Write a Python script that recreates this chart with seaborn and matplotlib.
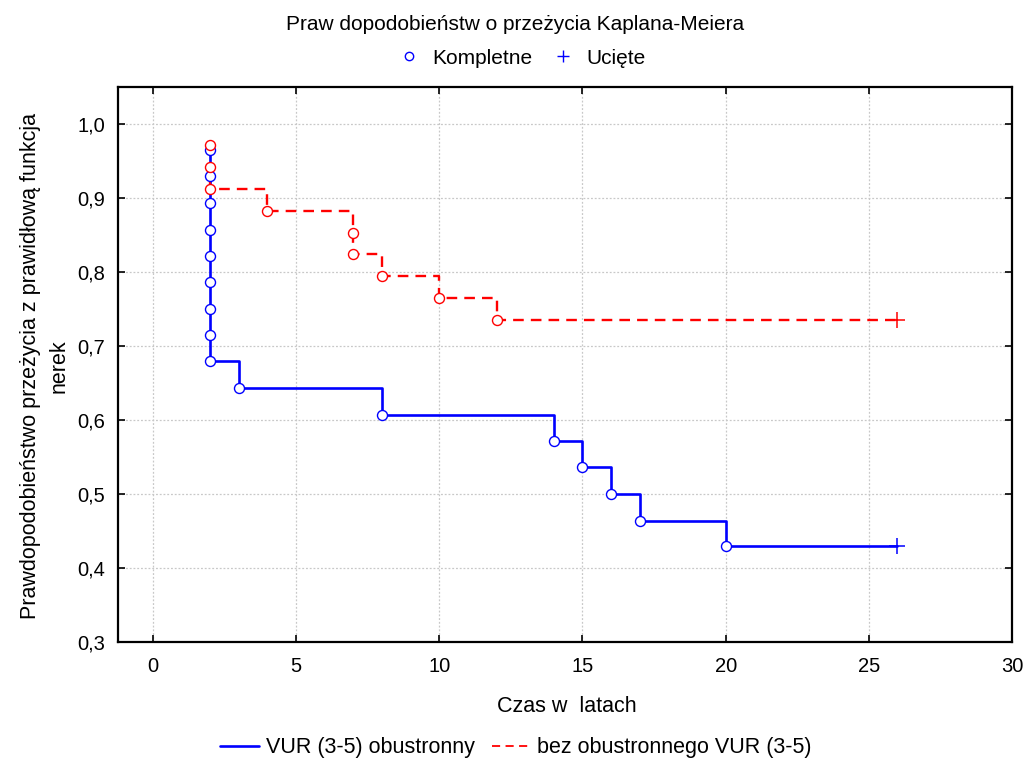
import numpy as np
import pandas as pd
import matplotlib
matplotlib.use("Agg")
import matplotlib.pyplot as plt
from matplotlib.lines import Line2D
import seaborn as sns

# ---- data ----
blue_times = [2, 2, 2, 2, 2, 2, 2, 2, 2, 3, 8, 14, 15, 16, 17, 20]
blue_surv = [0.964, 0.929, 0.893, 0.857, 0.821, 0.786, 0.750, 0.714, 0.679,
             0.643, 0.607, 0.571, 0.536, 0.500, 0.464, 0.429]
blue_cens_times = [26]
blue_cens_surv = [0.429]

red_times = [2, 2, 2, 4, 7, 7, 8, 10, 12]
red_surv = [0.971, 0.941, 0.912, 0.882, 0.853, 0.824, 0.794, 0.765, 0.735]
red_cens_times = [26]
red_cens_surv = [0.735]

series_names = ["VUR (3-5) obustronny", "bez obustronnego VUR (3-5)"]
marker_names = ["Kompletne", "Ucięte"]
x_ticks = [0, 5, 10, 15, 20, 25, 30]
y_ticks = [0.3, 0.4, 0.5, 0.6, 0.7, 0.8, 0.9, 1.0]
y_tick_labels = ["0,3", "0,4", "0,5", "0,6", "0,7", "0,8", "0,9", "1,0"]

title = "Praw dopodobieństw o przeżycia Kaplana-Meiera"
xlabel = "Czas w  latach"
ylabel = "Prawdopodobieństwo przeżycia z prawidłową funkcja\nnerek"

# ---- style ----
sns.set_style("white")
plt.rcParams["font.family"] = ["Liberation Sans", "DejaVu Sans"]
plt.rcParams["text.color"] = "black"
plt.rcParams["axes.labelcolor"] = "black"
plt.rcParams["xtick.color"] = "black"
plt.rcParams["ytick.color"] = "black"

fig = plt.figure(figsize=(10.26, 7.60), dpi=100)
ax = fig.add_axes([117.7 / 1026, 1 - 642 / 760, (1012 - 117.7) / 1026, (642 - 86.7) / 760])

BLUE = "#0000ff"
RED = "#ff0000"
DASH = (0, (4.5, 3.0))

blue_df = pd.DataFrame({"t": blue_times + blue_cens_times, "s": blue_surv + blue_cens_surv})
red_df = pd.DataFrame({"t": red_times + red_cens_times, "s": red_surv + red_cens_surv})

sns.lineplot(data=blue_df, x="t", y="s", estimator=None, sort=False, ax=ax,
             drawstyle="steps-post", color=BLUE, linewidth=1.9, zorder=2)
sns.lineplot(data=red_df, x="t", y="s", estimator=None, sort=False, ax=ax,
             drawstyle="steps-post", color=RED, linewidth=1.7, linestyle=DASH, zorder=2)

sns.scatterplot(x=blue_times, y=blue_surv, ax=ax, marker="o", s=52,
                facecolor="white", edgecolor=BLUE, linewidth=1.0, zorder=3)
sns.scatterplot(x=red_times, y=red_surv, ax=ax, marker="o", s=52,
                facecolor="white", edgecolor=RED, linewidth=1.0, zorder=3)
sns.scatterplot(x=blue_cens_times, y=blue_cens_surv, ax=ax, marker="+", s=120,
                color=BLUE, linewidth=1.1, zorder=3)
sns.scatterplot(x=red_cens_times, y=red_cens_surv, ax=ax, marker="+", s=120,
                color=RED, linewidth=1.1, zorder=3)

ax.set_xlim(-1.23, 30)
ax.set_ylim(0.3, 1.05)
ax.set_xticks(x_ticks)
ax.set_xticklabels([str(v) for v in x_ticks], fontsize=14.5)
ax.set_yticks(y_ticks)
ax.set_yticklabels(y_tick_labels, fontsize=14.5)
ax.tick_params(axis="x", pad=11)
ax.tick_params(axis="y", pad=9)
ax.tick_params(direction="in", length=5, width=1.2, top=True, right=True,
               bottom=True, left=True, colors="black")
ax.grid(True, linestyle=(0, (1.5, 1.5)), color="#c8c8c8", linewidth=0.9)
for sp in ax.spines.values():
    sp.set_linewidth(1.6)
    sp.set_color("black")

ax.set_xlabel("")
ax.set_ylabel("")
fig.text(567 / 1026, 1 - 706 / 760, xlabel, ha="center", va="center", fontsize=15.5)
fig.text(45 / 1026, 1 - 366 / 760, ylabel, ha="center", va="center", rotation=90,
         fontsize=15.5, linespacing=1.5, multialignment="center")

fig.text(515 / 1026, 1 - 24 / 760, title, ha="center", va="center", fontsize=15)

top_handles = [
    Line2D([], [], linestyle="none", marker="o", markersize=6,
           markerfacecolor="white", markeredgecolor=BLUE, markeredgewidth=1.0),
    Line2D([], [], linestyle="none", marker="+", markersize=8.5,
           markeredgecolor=BLUE, markeredgewidth=1.0),
]
fig.legend(top_handles, marker_names, loc="center", ncol=2,
           bbox_to_anchor=(522 / 1026, 1 - 58 / 760), frameon=False, fontsize=15,
           handlelength=1.0, handletextpad=0.6, columnspacing=1.0)

bottom_handles = [
    Line2D([], [], color=BLUE, linewidth=1.9),
    Line2D([], [], color=RED, linewidth=1.3, linestyle=DASH),
]
fig.legend(bottom_handles, series_names, loc="center", ncol=2,
           bbox_to_anchor=(516 / 1026, 1 - 748 / 760), frameon=False, fontsize=15.5,
           handlelength=1.8, handletextpad=0.3, columnspacing=0.8)

fig.savefig("out.png", dpi=100)
